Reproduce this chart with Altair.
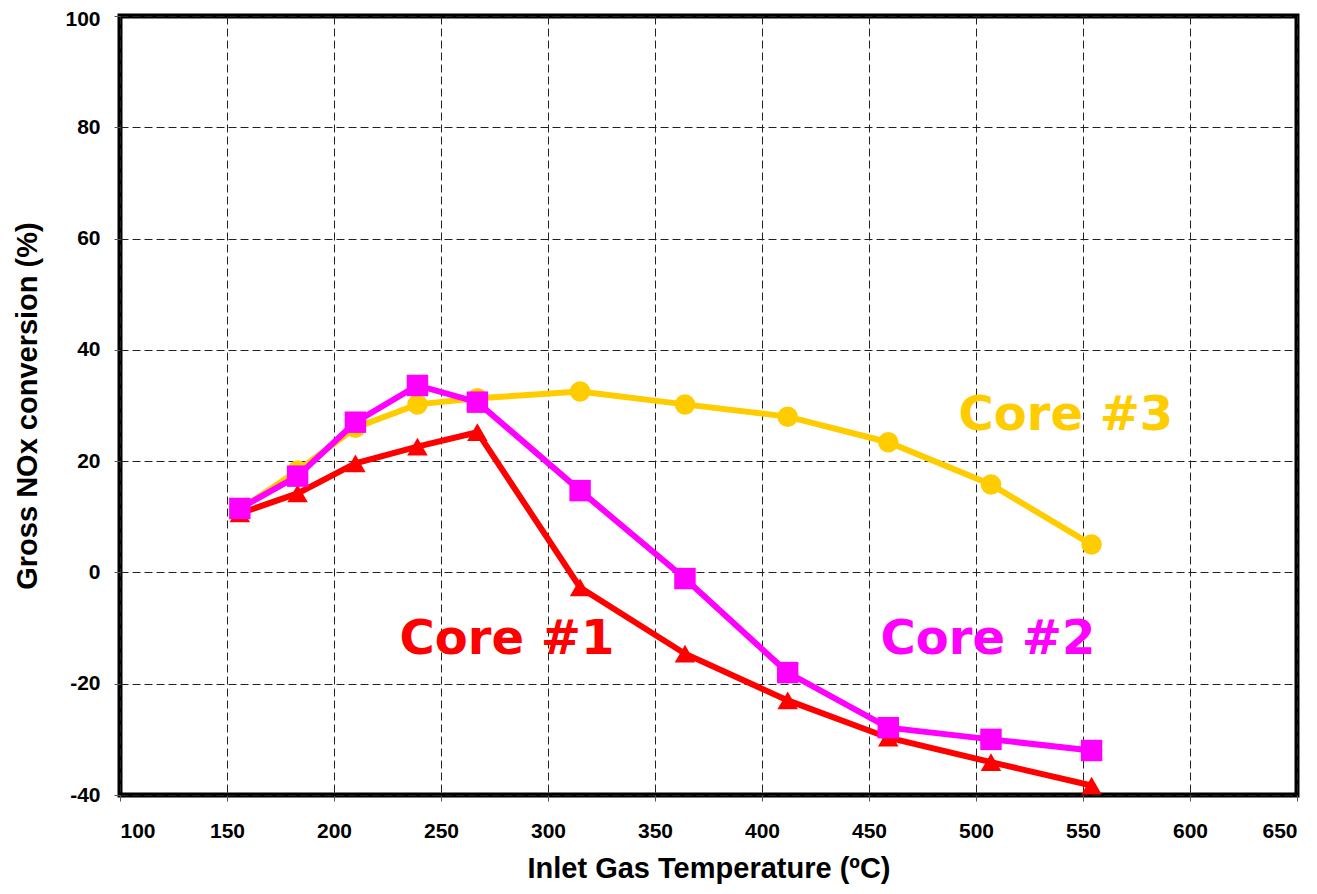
import altair as alt
import pandas as pd

temps = [156, 183, 210, 239, 267, 315, 364, 412, 459, 507, 554]
core1 = [10.6, 14.2, 19.6, 22.6, 25.2, -2.7, -14.6, -23.0, -29.7, -34.1, -38.3]
core2 = [11.5, 17.3, 27.0, 33.6, 30.6, 14.7, -1.1, -18.0, -27.9, -30.0, -32.0]
core3 = [11.3, 18.3, 26.0, 30.2, 31.3, 32.5, 30.2, 28.0, 23.4, 15.8, 5.0]

series = [
    ("Core #3", core3, "#FFCC00", "circle", 420),
    ("Core #1", core1, "#FF0000", "triangle-up", 420),
    ("Core #2", core2, "#FF00FF", "square", 460),
]

label_names = ["Core #3", "Core #2", "Core #1"]
label_x = [542, 505.6, 280.8]
label_y = [28.2, -12.2, -12.2]
label_colors = ["#FFCC00", "#FF00FF", "#FF0000"]

xscale = alt.Scale(domain=[100, 650], nice=False, zero=False)
yscale = alt.Scale(domain=[-40, 100], nice=False, zero=False)

xaxis = alt.Axis(values=list(range(100, 651, 50)), title="Inlet Gas Temperature (ºC)",
                 labelFont="Liberation Sans", labelFontSize=21, labelFontWeight="bold",
                 labelColor="black", labelPadding=19,
                 titleFont="Liberation Sans", titleFontSize=29, titleFontWeight="bold",
                 titleColor="black", titlePadding=13,
                 grid=True, gridColor="#222222", gridDash=[8, 4], gridWidth=1,
                 tickColor="#555555", tickSize=6, domain=False)
yaxis = alt.Axis(values=list(range(-40, 101, 20)), title="Gross NOx conversion (%)",
                 labelExpr="toString(datum.value)",
                 labelOffset=alt.condition("datum.value == 100", alt.value(3), alt.value(0)),
                 labelFont="Liberation Sans", labelFontSize=21, labelFontWeight="bold",
                 labelColor="black", labelPadding=14,
                 titleFont="Liberation Sans", titleFontSize=29, titleFontWeight="bold",
                 titleColor="black", titlePadding=22,
                 grid=True, gridColor="#222222", gridDash=[8, 4], gridWidth=1,
                 tickColor="#555555", tickSize=6, domain=False)

X = alt.X("T:Q", scale=xscale, axis=xaxis)
Y = alt.Y("C:Q", scale=yscale, axis=yaxis)

layers = []
for name, vals, color, shape, size in series:
    df = pd.DataFrame({"T": temps, "C": vals, "series": name})
    line = alt.Chart(df).mark_line(color=color, strokeWidth=6).encode(x=X, y=Y)
    pts = alt.Chart(df).mark_point(filled=True, opacity=1, color=color, shape=shape,
                                   size=size, strokeWidth=0).encode(x=X, y=Y)
    layers += [line, pts]

ldf = pd.DataFrame({"T": label_x, "C": label_y, "name": label_names, "color": label_colors})
labels = alt.Chart(ldf).mark_text(font="DejaVu Sans", fontSize=48, fontWeight="bold",
                                  align="center", baseline="middle").encode(
    x=X, y=Y, text="name:N", color=alt.Color("color:N", scale=None))

chart = alt.layer(*layers, labels).properties(
    width=1177, height=779,
    background="white",
    autosize=alt.AutoSizeParams(type="none"),
    padding={"left": 112, "top": 8, "right": 10, "bottom": 90},
).configure_view(stroke="black", strokeWidth=5)

chart.save("out.html", embed_options={"renderer": "svg", "actions": False})
